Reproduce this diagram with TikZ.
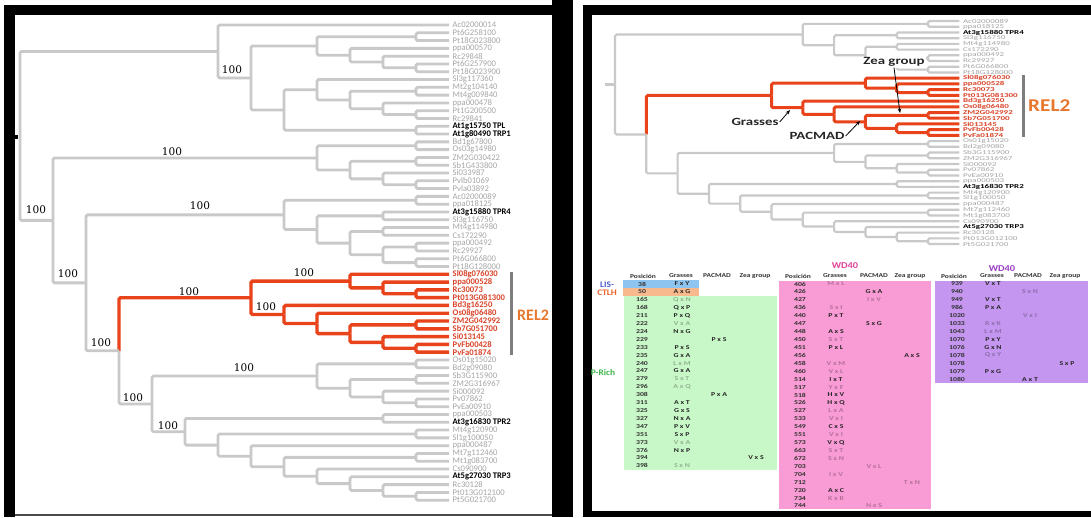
\documentclass[tikz,border=0pt]{standalone}
\usepackage{graphicx}
\usepackage{fontspec}
\setmainfont{Carlito}
\newfontfamily\bsfont{DejaVu Serif}
\usetikzlibrary{calc,arrows.meta}
\definecolor{treegray}{HTML}{C9C9C9}
\definecolor{labgray}{HTML}{A6A6A6}
\definecolor{treered}{HTML}{E8431A}
\definecolor{labred}{HTML}{D9442A}
\definecolor{relor}{HTML}{E8772E}
\definecolor{barg}{HTML}{7E7E7E}
\definecolor{cblue}{HTML}{8EC4F0}
\definecolor{corange}{HTML}{F8BA8C}
\definecolor{cgreen}{HTML}{C8F8C8}
\definecolor{cpink}{HTML}{F99BD4}
\definecolor{cpurple}{HTML}{C496F0}
\definecolor{wdpink}{HTML}{E0449A}
\definecolor{wdpurple}{HTML}{9A3FC4}
\definecolor{lisblue}{HTML}{4A5CC8}
\definecolor{ctlhor}{HTML}{E8642A}
\definecolor{prgreen}{HTML}{3DB54A}
\newcommand\Wide[2]{\scalebox{#1}[1]{#2}}
\newcommand\PLeaf[3]{%
  \coordinate (l#1) at ({(\TX+13*\TD)*1pt},{-(\LYa+(#1-\LIa)*\LDY)*1pt});
  \node[lbl,#2] (t#1) at (l#1) {\LblBox{#3}};}
\newcommand\PNode[6]{%
  \path let \p1=(#3), \p2=(#4) in coordinate (#1) at ({(\TX+#2*\TD)*1pt},{0.5*(\y1)+0.5*(\y2)});
  \draw[#5] (#1) |- (#3);
  \draw[#6] (#1) |- (#4);}
\newcommand\SharedTree{%
\PLeaf{23}{gl}{Ac02000089}\PLeaf{24}{gl}{ppa018125}\PLeaf{25}{bl}{At3g15880 TPR4}%
\PLeaf{26}{gl}{Sl3g116750}\PLeaf{27}{gl}{Mt4g114980}\PLeaf{28}{gl}{Cs172290}%
\PLeaf{29}{gl}{ppa000492}\PLeaf{30}{gl}{Rc29927}\PLeaf{31}{gl}{Pt6G066800}%
\PLeaf{32}{gl}{Pt18G128000}%
\PLeaf{33}{rl}{Sl08g076030}\PLeaf{34}{rl}{ppa000528}\PLeaf{35}{rl}{Rc30073}%
\PLeaf{36}{rl}{Pt013G081300}\PLeaf{37}{rl}{Bd3g16250}\PLeaf{38}{rl}{Os08g06480}%
\PLeaf{39}{rl}{ZM2G042992}\PLeaf{40}{rl}{Sb7G051700}\PLeaf{41}{rl}{Si013145}%
\PLeaf{42}{rl}{PvFb00428}\PLeaf{43}{rl}{PvFa01874}%
\PLeaf{44}{gl}{Os01g15020}\PLeaf{45}{gl}{Bd2g09080}\PLeaf{46}{gl}{Sb3G115900}%
\PLeaf{47}{gl}{ZM2G316967}\PLeaf{48}{gl}{Si000092}\PLeaf{49}{gl}{Pv07862}%
\PLeaf{50}{gl}{PvEa00910}\PLeaf{51}{gl}{ppa000503}\PLeaf{52}{bl}{At3g16830 TPR2}%
\PLeaf{53}{gl}{Mt4g120900}\PLeaf{54}{gl}{Sl1g100050}\PLeaf{55}{gl}{ppa000487}%
\PLeaf{56}{gl}{Mt7g112460}\PLeaf{57}{gl}{Mt1g083700}\PLeaf{58}{gl}{Cs090900}%
\PLeaf{59}{bl}{At5g27030 TRP3}\PLeaf{60}{gl}{Rc30128}\PLeaf{61}{gl}{Pt013G012100}%
\PLeaf{62}{gl}{Pt5G021700}%
\PNode{n2324}{12}{l23}{l24}{gbr}{gbr}%
\PNode{n2526}{11}{l25}{l26}{gbr}{gbr}%
\PNode{n2728}{11}{l27}{l28}{gbr}{gbr}%
\PNode{n2930}{12}{l29}{l30}{gbr}{gbr}%
\PNode{n3132}{12}{l31}{l32}{gbr}{gbr}%
\PNode{n2932}{11}{n2930}{n3132}{gbr}{gbr}%
\PNode{nQ}{10}{n2728}{n2932}{gbr}{gbr}%
\PNode{n2532}{9}{n2526}{nQ}{gbr}{gbr}%
\PNode{nP}{8}{n2324}{n2532}{gbr}{gbr}%
\PNode{n4445}{12}{l44}{l45}{gbr}{gbr}%
\PNode{n4647}{12}{l46}{l47}{gbr}{gbr}%
\PNode{n4950}{12}{l49}{l50}{gbr}{gbr}%
\PNode{n4850}{11}{l48}{n4950}{gbr}{gbr}%
\PNode{nK}{10}{n4647}{n4850}{gbr}{gbr}%
\PNode{nJ}{9}{n4445}{nK}{gbr}{gbr}%
\PNode{n5152}{11}{l51}{l52}{gbr}{gbr}%
\PNode{n5354}{12}{l53}{l54}{gbr}{gbr}%
\PNode{n6162}{12}{l61}{l62}{gbr}{gbr}%
\PNode{nB}{11}{l60}{n6162}{gbr}{gbr}%
\PNode{nC}{10}{l59}{nB}{gbr}{gbr}%
\PNode{nD}{9}{l58}{nC}{gbr}{gbr}%
\PNode{n5657}{12}{l56}{l57}{gbr}{gbr}%
\PNode{nE}{8}{n5657}{nD}{gbr}{gbr}%
\PNode{nF}{7}{l55}{nE}{gbr}{gbr}%
\PNode{nG}{6}{n5354}{nF}{gbr}{gbr}%
\PNode{nH}{5}{n5152}{nG}{gbr}{gbr}%
\PNode{nI}{4}{nJ}{nH}{gbr}{gbr}%
\PNode{n3536}{12}{l35}{l36}{rbr}{rbr}%
\PNode{n3436}{11}{l34}{n3536}{rbr}{rbr}%
\PNode{nRa}{10}{l33}{n3436}{rbr}{rbr}%
\PNode{n4243}{12}{l42}{l43}{rbr}{rbr}%
\PNode{n4143}{11}{l41}{n4243}{rbr}{rbr}%
\PNode{n3940}{12}{l39}{l40}{rbr}{rbr}%
\PNode{n3943}{10}{n3940}{n4143}{rbr}{rbr}%
\PNode{n3843}{9}{l38}{n3943}{rbr}{rbr}%
\PNode{nRb}{8}{l37}{n3843}{rbr}{rbr}%
\PNode{nR}{7}{nRa}{nRb}{rbr}{rbr}%
\PNode{nN}{3}{nI}{nR}{gbr}{rbr}%
\PNode{nPN}{2}{nP}{nN}{gbr}{gbr}%
}
\tikzset{
  lbl/.style={anchor=west, inner sep=0pt, xshift=3.5pt, font=\LblFont, text=labgray},
  gl/.style={},
  bl/.style={text=black, font=\LblFont\bfseries},
  rl/.style={text=labred, font=\LblFont\bfseries},
  gbr/.style={draw=treegray, line width=\GW, rounded corners=1.5pt},
  rbr/.style={draw=treered, line width=\RW, rounded corners=1.5pt},
  bsl/.style={font=\bsfont\fontsize{10.5}{11}\selectfont, inner sep=0pt, text=black},
  ann/.style={font=\fontsize{11}{12}\selectfont\bfseries, text=black!85, inner sep=1pt},
  annar/.style={draw=black, line width=0.8pt, -{Stealth[length=4.5pt,width=3.6pt]}},
  relbar/.style={draw=barg, line width=3pt},
  hdr/.style={font=\fontsize{6}{6}\selectfont\bfseries, text=black!80, inner sep=0pt},
  tnum/.style={font=\fontsize{6}{6}\selectfont\bfseries, text=black!80, inner sep=0pt},
  sb/.style={font=\fontsize{6}{6}\selectfont\bfseries, text=black!85, inner sep=0pt},
  sf/.style={font=\fontsize{6}{6}\selectfont\bfseries, text=black, text opacity=0.28, inner sep=0pt},
  side/.style={font=\fontsize{8.5}{9}\selectfont\bfseries, inner sep=0pt},
}
\begin{document}
\begin{tikzpicture}[x=1pt,y=-1pt]
\useasboundingbox (0,0) rectangle (1091,517);
\fill[white] (0,0) rectangle (1091,517);
% frames
\fill[black] (4,5) rectangle (15,517);
\fill[black] (4,5) rectangle (573,15);
\fill[black] (552,0) rectangle (573,517);
\draw[black!70, line width=1.2pt] (15,515) -- (552,515);
\fill[black] (583,5) rectangle (592,517);
\fill[black] (583,5) rectangle (1091,15);
\fill[black] (583,511) rectangle (1091,517);
% ---------------- left tree
\begin{scope}[name prefix=L-]
\def\TX{20}\def\TD{33}\def\LYa{25}\def\LIa{1}\def\LDY{7.79}
\def\LblBox#1{#1}\def\LblFont{\fontsize{8.6}{8.6}\selectfont}
\def\GW{2.8pt}\def\RW{3.4pt}
\PLeaf{1}{gl}{Ac02000014}\PLeaf{2}{gl}{Pt6G258100}\PLeaf{3}{gl}{Pt18G023800}
\PLeaf{4}{gl}{ppa000570}\PLeaf{5}{gl}{Rc29848}\PLeaf{6}{gl}{Pt6G257900}
\PLeaf{7}{gl}{Pt18G023900}\PLeaf{8}{gl}{Sl3g117360}\PLeaf{9}{gl}{Mt2g104140}
\PLeaf{10}{gl}{Mt4g009840}\PLeaf{11}{gl}{ppa000478}\PLeaf{12}{gl}{Pt1G200500}
\PLeaf{13}{gl}{Rc29841}\PLeaf{14}{bl}{At1g15750 TPL}\PLeaf{15}{bl}{At1g80490 TRP1}
\PLeaf{16}{gl}{Bd1g67800}\PLeaf{17}{gl}{Os03g14980}\PLeaf{18}{gl}{ZM2G030422}
\PLeaf{19}{gl}{Sb1G433800}\PLeaf{20}{gl}{Si033987}\PLeaf{21}{gl}{Pvlb01069}
\PLeaf{22}{gl}{Pvla03892}
\SharedTree
\PNode{n0203}{12}{l2}{l3}{gbr}{gbr}
\PNode{n0607}{12}{l6}{l7}{gbr}{gbr}
\PNode{n0507}{11}{l5}{n0607}{gbr}{gbr}
\PNode{n0407}{10}{l4}{n0507}{gbr}{gbr}
\PNode{nV}{9}{n0203}{n0407}{gbr}{gbr}
\PNode{n1213}{12}{l12}{l13}{gbr}{gbr}
\PNode{n1113}{11}{l11}{n1213}{gbr}{gbr}
\PNode{n0910}{12}{l9}{l10}{gbr}{gbr}
\PNode{n0913}{10}{n0910}{n1113}{gbr}{gbr}
\PNode{n0813}{9}{l8}{n0913}{gbr}{gbr}
\PNode{n1415}{12}{l14}{l15}{gbr}{gbr}
\PNode{nW}{8}{n0813}{n1415}{gbr}{gbr}
\PNode{nU}{7}{nV}{nW}{gbr}{gbr}
\PNode{nT}{6}{l1}{nU}{gbr}{gbr}
\PNode{n1617}{12}{l16}{l17}{gbr}{gbr}
\PNode{n1819}{12}{l18}{l19}{gbr}{gbr}
\PNode{n2122}{12}{l21}{l22}{gbr}{gbr}
\PNode{n2022}{11}{l20}{n2122}{gbr}{gbr}
\PNode{n1822}{10}{n1819}{n2022}{gbr}{gbr}
\PNode{nGa}{9}{n1617}{n1822}{gbr}{gbr}
\PNode{nGPN}{1}{nGa}{nPN}{gbr}{gbr}
\PNode{nRoot}{0}{nT}{nGPN}{gbr}{gbr}
\end{scope}
\fill[black] (15,135) rectangle (18,138.5);
% bootstrap values
\node[bsl] (b1) at (232,70) {100};
\node[bsl] (b2) at (172,152) {100};
\node[bsl] (b3) at (36,210) {100};
\node[bsl] (b4) at (200,206) {100};
\node[bsl] (b5) at (68,274) {100};
\node[bsl] (b6) at (304,273) {100};
\node[bsl] (b7) at (189,292) {100};
\node[bsl] (b8) at (266,307) {100};
\node[bsl] (b9) at (101,343) {100};
\node[bsl] (b10) at (244,368) {100};
\node[bsl] (b11) at (133,398) {100};
\node[bsl] (b12) at (168,426) {100};
% left REL2
\draw[relbar] (511,272) -- (511,355);
\node[font=\fontsize{16}{16}\selectfont\bfseries, text=relor, inner sep=0pt, anchor=west] (relL) at (517,315) {REL2};
% ---------------- right tree
\begin{scope}[name prefix=R-]
\def\TX{552.4}\def\TD{31.3}\def\LYa{21}\def\LIa{23}\def\LDY{5.72}
\def\LblBox#1{\scalebox{1.5}[1]{#1}}\def\LblFont{\fontsize{6}{6}\selectfont}
\def\GW{2.2pt}\def\RW{3pt}
\SharedTree
\path let \p1=(nPN) in coordinate (stub) at ({605pt},{\y1});
\draw[gbr] (stub) -- (nPN);
\end{scope}
\draw[relbar] (1023,75) -- (1023,137);
\node[font=\fontsize{18}{18}\selectfont\bfseries, text=relor, inner sep=0pt, anchor=west] (relR) at (1028,106) {\Wide{1.18}{REL2}};
% annotations
\node[ann, fill=white] (zea) at (894,62) {\Wide{1.35}{Zea group}};
\node[ann] (gr) at (755,122) {\Wide{1.35}{Grasses}};
\node[ann] (pm) at (817,136) {\Wide{1.35}{PACMAD}};
\coordinate (zeatip) at (900,113);
\coordinate (grtip) at (790,110);
\coordinate (pmtip) at (860,121);
\draw[annar] (zea.south) -- (zeatip);
\draw[annar] (gr.east) -- (grtip);
\draw[annar] (pm.east) -- (pmtip);
% ---------------- tables
\fill[cblue] (623,280) rectangle (699,288);
\fill[corange] (623,288) rectangle (699,296);
\fill[cgreen] (624,296) rectangle (777,470);
\fill[cpink] (779,280.5) rectangle (931,509);
\fill[cpurple] (935,280.5) rectangle (1088,383);
\node[side, text=lisblue] (lis) at (607,285) {\Wide{1.1}{LIS-}};
\node[side, text=ctlhor] (ctlh) at (607,293) {\Wide{1.1}{CTLH}};
\node[side, text=prgreen] (prich) at (603,373) {\Wide{1.1}{P-Rich}};
\node[font=\fontsize{9}{9}\selectfont\bfseries, text=wdpink, inner sep=0pt] (wd1) at (845,266) {\Wide{1.15}{WD40}};
\node[font=\fontsize{9}{9}\selectfont\bfseries, text=wdpurple, inner sep=0pt] (wd2) at (1002,269) {\Wide{1.15}{WD40}};
\foreach \hx/\hn [count=\hi] in {643/Posición,681/Grasses,717/PACMAD,755/Zea group}
  {\node[hdr] (ha\hi) at (\hx,276) {\Wide{1.25}{\hn}};}
\foreach \hx/\hn [count=\hi] in {798/Posición,835/Grasses,874/PACMAD,910/Zea group}
  {\node[hdr] (hb\hi) at (\hx,276) {\Wide{1.25}{\hn}};}
\foreach \hx/\hn [count=\hi] in {954/Posición,992/Grasses,1028/PACMAD,1065/Zea group}
  {\node[hdr] (hc\hi) at (\hx,276) {\Wide{1.25}{\hn}};}
\foreach \kk/\pp/\cc/\tx/\sty in {0/38/1/F x Y/sb, 1/50/1/A x G/sb, 2/165/1/Q x N/sf, 3/168/1/Q x P/sb, 4/211/1/P x Q/sb, 5/222/1/V x A/sf, 6/224/1/N x G/sb, 7/229/2/P x S/sb, 8/233/1/P x S/sb, 9/235/1/G x A/sb, 10/240/1/L x M/sf, 11/247/1/G x A/sb, 12/279/1/S x T/sf, 13/296/1/A x Q/sf, 14/308/2/P x A/sb, 15/311/1/A x T/sb, 16/325/1/G x S/sb, 17/327/1/N x A/sb, 18/347/1/P x V/sb, 19/351/1/S x P/sb, 20/373/1/V x A/sf, 21/376/1/N x P/sb, 22/394/3/V x S/sb, 23/398/1/S x N/sf}
  {\node[tnum] (ta\kk) at (642,{284+7.91*\kk}) {\Wide{1.3}{\pp}};
   \node[\sty] (tas\kk) at ({645+37*\cc},{284+7.91*\kk}) {\Wide{1.3}{\tx}};}
\foreach \kk/\pp/\cc/\tx/\sty in {0/406/1/M x L/sf, 1/426/2/G x A/sb, 2/427/2/I x V/sf, 3/436/1/S x I/sf, 4/440/1/P x T/sb, 5/447/2/S x G/sb, 6/448/1/A x S/sb, 7/450/1/S x T/sf, 8/451/1/P x L/sb, 9/456/3/A x S/sb, 10/458/1/V x M/sf, 11/460/1/V x L/sf, 12/514/1/I x T/sb, 13/517/1/Y x F/sf, 14/518/1/H x V/sb, 15/526/1/H x Q/sb, 16/527/1/L x A/sf, 17/533/1/V x I/sf, 18/549/1/C x S/sb, 19/551/1/V x I/sf, 20/573/1/V x Q/sb, 21/663/1/S x T/sf, 22/672/1/S x N/sf, 23/703/2/V x L/sf, 24/704/1/I x V/sf, 25/712/3/T x N/sf, 26/720/1/A x C/sb, 27/734/1/K x R/sf, 28/744/2/N x S/sf}
  {\node[tnum] (tb\kk) at (800,{284+7.93*\kk}) {\Wide{1.3}{\pp}};
   \node[\sty] (tbs\kk) at ({798+38*\cc},{284+7.93*\kk}) {\Wide{1.3}{\tx}};}
\foreach \kk/\pp/\cc/\tx/\sty in {0/939/1/V x T/sb, 1/940/2/S x N/sf, 2/949/1/V x T/sb, 3/986/1/P x A/sb, 4/1020/2/V x I/sf, 5/1033/1/R x K/sf, 6/1043/1/L x M/sf, 7/1070/1/P x Y/sb, 8/1076/1/G x N/sb, 9/1078/1/Q x Y/sf, 10/1078/3/S x P/sb, 11/1079/1/P x G/sb, 12/1080/2/A x T/sb}
  {\node[tnum] (tc\kk) at (957,{284+7.93*\kk}) {\Wide{1.3}{\pp}};
   \node[\sty] (tcs\kk) at ({956+37*\cc},{284+7.93*\kk}) {\Wide{1.3}{\tx}};}
\end{tikzpicture}
\end{document}
